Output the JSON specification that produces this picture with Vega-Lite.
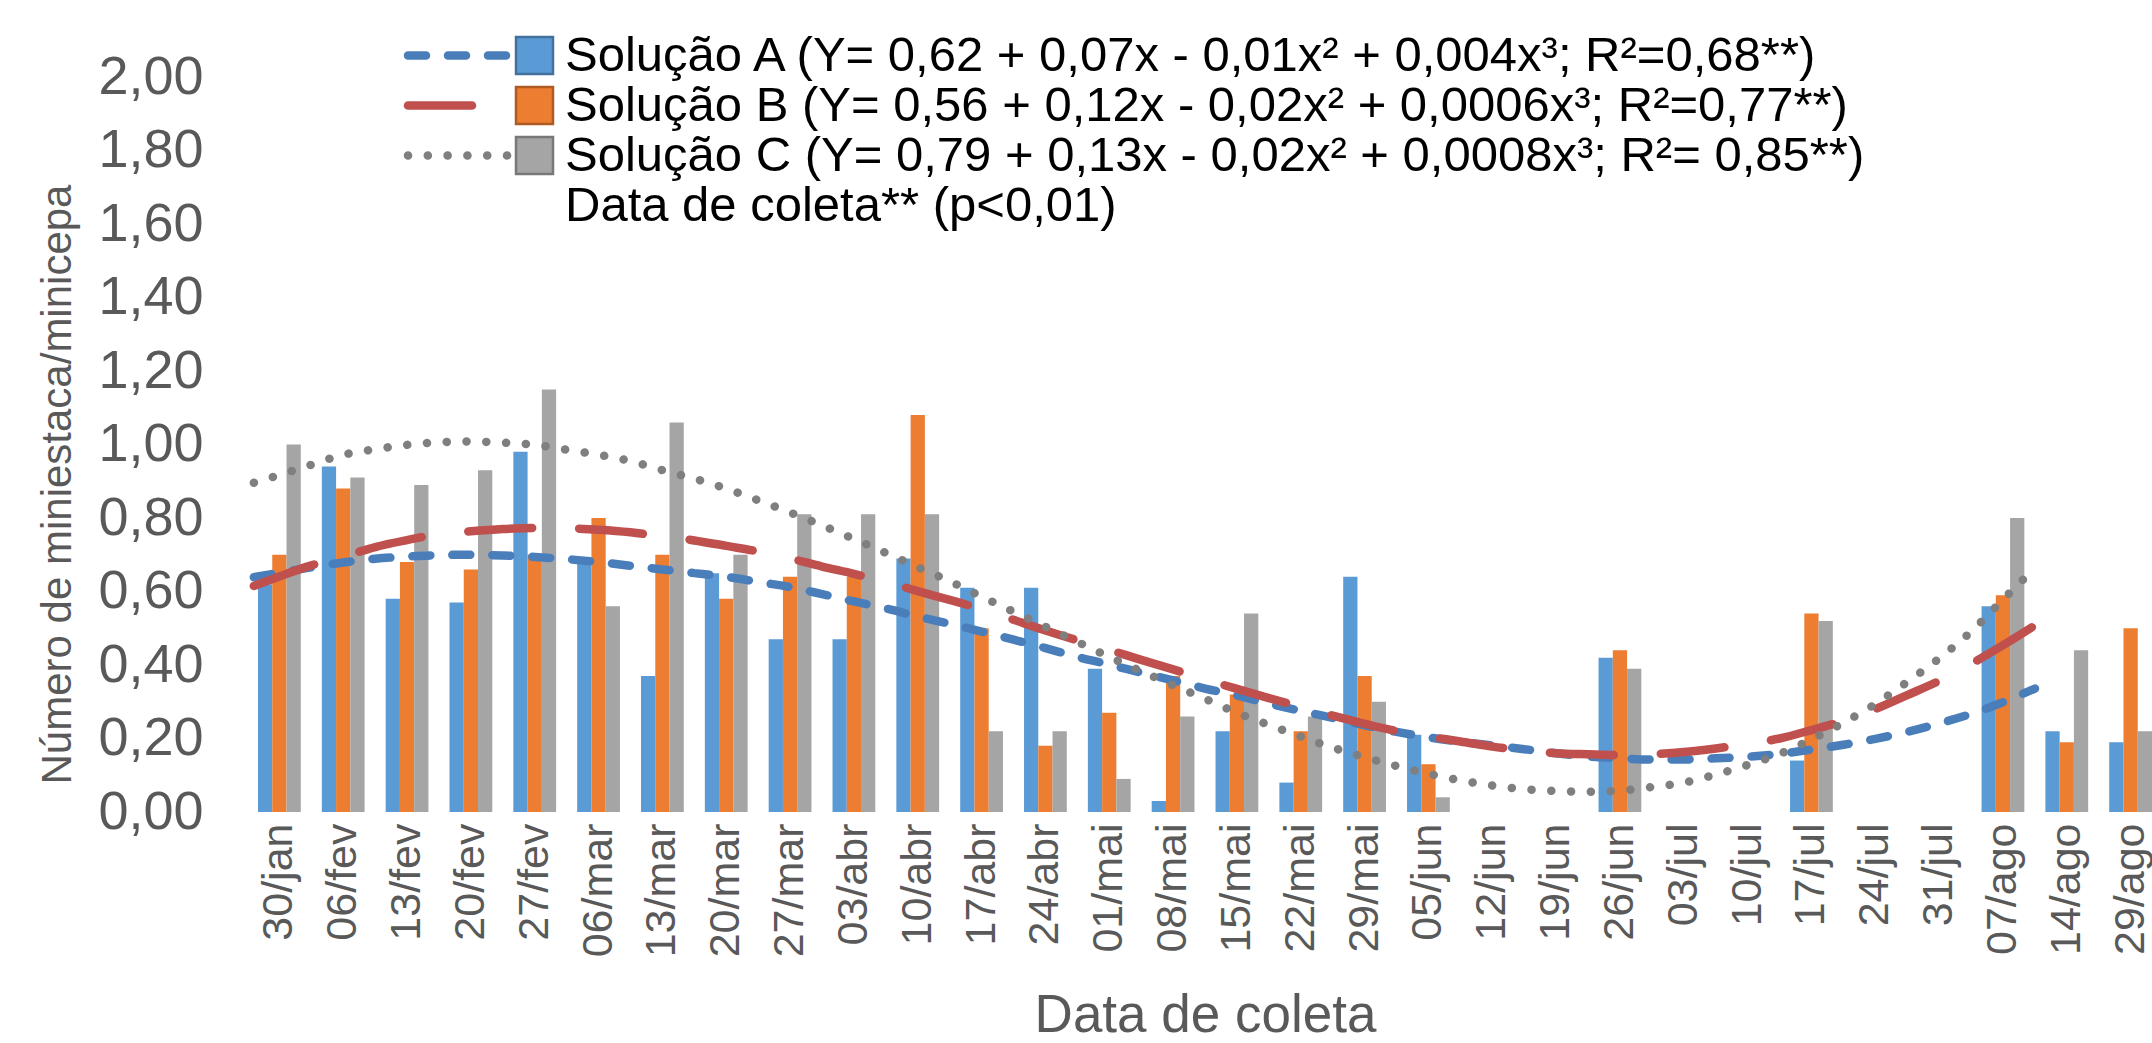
{
  "$schema": "https://vega.github.io/schema/vega-lite/v6.json",
  "width": 1894,
  "height": 735,
  "autosize": {"type": "none"},
  "padding": {"left": 258, "top": 77, "right": 0, "bottom": 231},
  "background": "white",
  "config": {"view": {"stroke": null}, "font": "Liberation Sans"},
  "datasets": {
    "barras": [
      {"data": "30/jan", "serie": "Solução A", "valor": 0.62}, {"data": "30/jan", "serie": "Solução B", "valor": 0.70}, {"data": "30/jan", "serie": "Solução C", "valor": 1.00},
      {"data": "06/fev", "serie": "Solução A", "valor": 0.94}, {"data": "06/fev", "serie": "Solução B", "valor": 0.88}, {"data": "06/fev", "serie": "Solução C", "valor": 0.91},
      {"data": "13/fev", "serie": "Solução A", "valor": 0.58}, {"data": "13/fev", "serie": "Solução B", "valor": 0.68}, {"data": "13/fev", "serie": "Solução C", "valor": 0.89},
      {"data": "20/fev", "serie": "Solução A", "valor": 0.57}, {"data": "20/fev", "serie": "Solução B", "valor": 0.66}, {"data": "20/fev", "serie": "Solução C", "valor": 0.93},
      {"data": "27/fev", "serie": "Solução A", "valor": 0.98}, {"data": "27/fev", "serie": "Solução B", "valor": 0.70}, {"data": "27/fev", "serie": "Solução C", "valor": 1.15},
      {"data": "06/mar", "serie": "Solução A", "valor": 0.69}, {"data": "06/mar", "serie": "Solução B", "valor": 0.80}, {"data": "06/mar", "serie": "Solução C", "valor": 0.56},
      {"data": "13/mar", "serie": "Solução A", "valor": 0.37}, {"data": "13/mar", "serie": "Solução B", "valor": 0.70}, {"data": "13/mar", "serie": "Solução C", "valor": 1.06},
      {"data": "20/mar", "serie": "Solução A", "valor": 0.65}, {"data": "20/mar", "serie": "Solução B", "valor": 0.58}, {"data": "20/mar", "serie": "Solução C", "valor": 0.70},
      {"data": "27/mar", "serie": "Solução A", "valor": 0.47}, {"data": "27/mar", "serie": "Solução B", "valor": 0.64}, {"data": "27/mar", "serie": "Solução C", "valor": 0.81},
      {"data": "03/abr", "serie": "Solução A", "valor": 0.47}, {"data": "03/abr", "serie": "Solução B", "valor": 0.64}, {"data": "03/abr", "serie": "Solução C", "valor": 0.81},
      {"data": "10/abr", "serie": "Solução A", "valor": 0.69}, {"data": "10/abr", "serie": "Solução B", "valor": 1.08}, {"data": "10/abr", "serie": "Solução C", "valor": 0.81},
      {"data": "17/abr", "serie": "Solução A", "valor": 0.61}, {"data": "17/abr", "serie": "Solução B", "valor": 0.50}, {"data": "17/abr", "serie": "Solução C", "valor": 0.22},
      {"data": "24/abr", "serie": "Solução A", "valor": 0.61}, {"data": "24/abr", "serie": "Solução B", "valor": 0.18}, {"data": "24/abr", "serie": "Solução C", "valor": 0.22},
      {"data": "01/mai", "serie": "Solução A", "valor": 0.39}, {"data": "01/mai", "serie": "Solução B", "valor": 0.27}, {"data": "01/mai", "serie": "Solução C", "valor": 0.09},
      {"data": "08/mai", "serie": "Solução A", "valor": 0.03}, {"data": "08/mai", "serie": "Solução B", "valor": 0.37}, {"data": "08/mai", "serie": "Solução C", "valor": 0.26},
      {"data": "15/mai", "serie": "Solução A", "valor": 0.22}, {"data": "15/mai", "serie": "Solução B", "valor": 0.32}, {"data": "15/mai", "serie": "Solução C", "valor": 0.54},
      {"data": "22/mai", "serie": "Solução A", "valor": 0.08}, {"data": "22/mai", "serie": "Solução B", "valor": 0.22}, {"data": "22/mai", "serie": "Solução C", "valor": 0.26},
      {"data": "29/mai", "serie": "Solução A", "valor": 0.64}, {"data": "29/mai", "serie": "Solução B", "valor": 0.37}, {"data": "29/mai", "serie": "Solução C", "valor": 0.30},
      {"data": "05/jun", "serie": "Solução A", "valor": 0.21}, {"data": "05/jun", "serie": "Solução B", "valor": 0.13}, {"data": "05/jun", "serie": "Solução C", "valor": 0.04},
      {"data": "26/jun", "serie": "Solução A", "valor": 0.42}, {"data": "26/jun", "serie": "Solução B", "valor": 0.44}, {"data": "26/jun", "serie": "Solução C", "valor": 0.39},
      {"data": "17/jul", "serie": "Solução A", "valor": 0.14}, {"data": "17/jul", "serie": "Solução B", "valor": 0.54}, {"data": "17/jul", "serie": "Solução C", "valor": 0.52},
      {"data": "07/ago", "serie": "Solução A", "valor": 0.56}, {"data": "07/ago", "serie": "Solução B", "valor": 0.59}, {"data": "07/ago", "serie": "Solução C", "valor": 0.80},
      {"data": "14/ago", "serie": "Solução A", "valor": 0.22}, {"data": "14/ago", "serie": "Solução B", "valor": 0.19}, {"data": "14/ago", "serie": "Solução C", "valor": 0.44},
      {"data": "29/ago", "serie": "Solução A", "valor": 0.19}, {"data": "29/ago", "serie": "Solução B", "valor": 0.50}, {"data": "29/ago", "serie": "Solução C", "valor": 0.22}
    ],
    "tendencia": [
      {"serie": "Solução A", "semana": -0.4, "valor": 0.639}, {"serie": "Solução A", "semana": 0, "valor": 0.651}, {"serie": "Solução A", "semana": 0.5, "valor": 0.666}, {"serie": "Solução A", "semana": 1, "valor": 0.679}, {"serie": "Solução A", "semana": 1.5, "valor": 0.689}, {"serie": "Solução A", "semana": 2, "valor": 0.695}, {"serie": "Solução A", "semana": 2.5, "valor": 0.699}, {"serie": "Solução A", "semana": 3, "valor": 0.700}, {"serie": "Solução A", "semana": 3.5, "valor": 0.698}, {"serie": "Solução A", "semana": 4, "valor": 0.694}, {"serie": "Solução A", "semana": 4.5, "valor": 0.688}, {"serie": "Solução A", "semana": 5, "valor": 0.680}, {"serie": "Solução A", "semana": 5.5, "valor": 0.670}, {"serie": "Solução A", "semana": 6, "valor": 0.660}, {"serie": "Solução A", "semana": 6.5, "valor": 0.650}, {"serie": "Solução A", "semana": 7, "valor": 0.640}, {"serie": "Solução A", "semana": 7.5, "valor": 0.626}, {"serie": "Solução A", "semana": 8, "valor": 0.612}, {"serie": "Solução A", "semana": 8.5, "valor": 0.593}, {"serie": "Solução A", "semana": 9, "valor": 0.573}, {"serie": "Solução A", "semana": 9.5, "valor": 0.554}, {"serie": "Solução A", "semana": 10, "valor": 0.532}, {"serie": "Solução A", "semana": 10.5, "valor": 0.512}, {"serie": "Solução A", "semana": 11, "valor": 0.491}, {"serie": "Solução A", "semana": 11.5, "valor": 0.469}, {"serie": "Solução A", "semana": 12, "valor": 0.446}, {"serie": "Solução A", "semana": 12.5, "valor": 0.422}, {"serie": "Solução A", "semana": 13, "valor": 0.401}, {"serie": "Solução A", "semana": 13.5, "valor": 0.379}, {"serie": "Solução A", "semana": 14, "valor": 0.358}, {"serie": "Solução A", "semana": 14.5, "valor": 0.336}, {"serie": "Solução A", "semana": 15, "valor": 0.317}, {"serie": "Solução A", "semana": 15.5, "valor": 0.295}, {"serie": "Solução A", "semana": 16, "valor": 0.275}, {"serie": "Solução A", "semana": 16.5, "valor": 0.256}, {"serie": "Solução A", "semana": 17, "valor": 0.236}, {"serie": "Solução A", "semana": 17.5, "valor": 0.218}, {"serie": "Solução A", "semana": 18, "valor": 0.203}, {"serie": "Solução A", "semana": 18.5, "valor": 0.191}, {"serie": "Solução A", "semana": 19, "valor": 0.181}, {"serie": "Solução A", "semana": 19.5, "valor": 0.171}, {"serie": "Solução A", "semana": 20, "valor": 0.160}, {"serie": "Solução A", "semana": 20.5, "valor": 0.151}, {"serie": "Solução A", "semana": 21, "valor": 0.146}, {"serie": "Solução A", "semana": 21.5, "valor": 0.143}, {"serie": "Solução A", "semana": 22, "valor": 0.143}, {"serie": "Solução A", "semana": 22.5, "valor": 0.146}, {"serie": "Solução A", "semana": 23, "valor": 0.150}, {"serie": "Solução A", "semana": 23.5, "valor": 0.158}, {"serie": "Solução A", "semana": 24, "valor": 0.170}, {"serie": "Solução A", "semana": 24.5, "valor": 0.183}, {"serie": "Solução A", "semana": 25, "valor": 0.199}, {"serie": "Solução A", "semana": 25.5, "valor": 0.218}, {"serie": "Solução A", "semana": 26, "valor": 0.241}, {"serie": "Solução A", "semana": 26.5, "valor": 0.267}, {"serie": "Solução A", "semana": 27, "valor": 0.299}, {"serie": "Solução A", "semana": 27.5, "valor": 0.336},
      {"serie": "Solução B", "semana": -0.4, "valor": 0.615}, {"serie": "Solução B", "semana": 0, "valor": 0.641}, {"serie": "Solução B", "semana": 0.5, "valor": 0.671}, {"serie": "Solução B", "semana": 1, "valor": 0.695}, {"serie": "Solução B", "semana": 1.5, "valor": 0.721}, {"serie": "Solução B", "semana": 2, "valor": 0.740}, {"serie": "Solução B", "semana": 2.5, "valor": 0.756}, {"serie": "Solução B", "semana": 3, "valor": 0.764}, {"serie": "Solução B", "semana": 3.5, "valor": 0.770}, {"serie": "Solução B", "semana": 4, "valor": 0.773}, {"serie": "Solução B", "semana": 4.5, "valor": 0.772}, {"serie": "Solução B", "semana": 5, "valor": 0.768}, {"serie": "Solução B", "semana": 5.5, "valor": 0.761}, {"serie": "Solução B", "semana": 6, "valor": 0.750}, {"serie": "Solução B", "semana": 6.5, "valor": 0.739}, {"serie": "Solução B", "semana": 7, "valor": 0.724}, {"serie": "Solução B", "semana": 7.5, "valor": 0.709}, {"serie": "Solução B", "semana": 8, "valor": 0.690}, {"serie": "Solução B", "semana": 8.5, "valor": 0.668}, {"serie": "Solução B", "semana": 9, "valor": 0.648}, {"serie": "Solução B", "semana": 9.5, "valor": 0.626}, {"serie": "Solução B", "semana": 10, "valor": 0.601}, {"serie": "Solução B", "semana": 10.5, "valor": 0.577}, {"serie": "Solução B", "semana": 11, "valor": 0.552}, {"serie": "Solução B", "semana": 11.5, "valor": 0.523}, {"serie": "Solução B", "semana": 12, "valor": 0.494}, {"serie": "Solução B", "semana": 12.5, "valor": 0.467}, {"serie": "Solução B", "semana": 13, "valor": 0.441}, {"serie": "Solução B", "semana": 13.5, "valor": 0.414}, {"serie": "Solução B", "semana": 14, "valor": 0.388}, {"serie": "Solução B", "semana": 14.5, "valor": 0.361}, {"serie": "Solução B", "semana": 15, "valor": 0.335}, {"serie": "Solução B", "semana": 15.5, "valor": 0.310}, {"serie": "Solução B", "semana": 16, "valor": 0.286}, {"serie": "Solução B", "semana": 16.5, "valor": 0.262}, {"serie": "Solução B", "semana": 17, "valor": 0.240}, {"serie": "Solução B", "semana": 17.5, "valor": 0.220}, {"serie": "Solução B", "semana": 18, "valor": 0.205}, {"serie": "Solução B", "semana": 18.5, "valor": 0.192}, {"serie": "Solução B", "semana": 19, "valor": 0.178}, {"serie": "Solução B", "semana": 19.5, "valor": 0.168}, {"serie": "Solução B", "semana": 20, "valor": 0.160}, {"serie": "Solução B", "semana": 20.5, "valor": 0.157}, {"serie": "Solução B", "semana": 21, "valor": 0.155}, {"serie": "Solução B", "semana": 21.5, "valor": 0.157}, {"serie": "Solução B", "semana": 22, "valor": 0.163}, {"serie": "Solução B", "semana": 22.5, "valor": 0.173}, {"serie": "Solução B", "semana": 23, "valor": 0.185}, {"serie": "Solução B", "semana": 23.5, "valor": 0.200}, {"serie": "Solução B", "semana": 24, "valor": 0.223}, {"serie": "Solução B", "semana": 24.5, "valor": 0.248}, {"serie": "Solução B", "semana": 25, "valor": 0.280}, {"serie": "Solução B", "semana": 25.5, "valor": 0.318}, {"serie": "Solução B", "semana": 26, "valor": 0.357}, {"serie": "Solução B", "semana": 26.5, "valor": 0.403}, {"serie": "Solução B", "semana": 27, "valor": 0.454}, {"serie": "Solução B", "semana": 27.5, "valor": 0.508}, {"serie": "Solução B", "semana": 27.6, "valor": 0.519},
      {"serie": "Solução C", "semana": -0.4, "valor": 0.896}, {"serie": "Solução C", "semana": 0, "valor": 0.917}, {"serie": "Solução C", "semana": 0.5, "valor": 0.945}, {"serie": "Solução C", "semana": 1, "valor": 0.972}, {"serie": "Solução C", "semana": 1.5, "valor": 0.987}, {"serie": "Solução C", "semana": 2, "valor": 0.999}, {"serie": "Solução C", "semana": 2.5, "valor": 1.006}, {"serie": "Solução C", "semana": 3, "valor": 1.008}, {"serie": "Solução C", "semana": 3.5, "valor": 1.005}, {"serie": "Solução C", "semana": 4, "valor": 0.999}, {"serie": "Solução C", "semana": 4.5, "valor": 0.986}, {"serie": "Solução C", "semana": 5, "valor": 0.972}, {"serie": "Solução C", "semana": 5.5, "valor": 0.955}, {"serie": "Solução C", "semana": 6, "valor": 0.930}, {"serie": "Solução C", "semana": 6.5, "valor": 0.907}, {"serie": "Solução C", "semana": 7, "valor": 0.880}, {"serie": "Solução C", "semana": 7.5, "valor": 0.848}, {"serie": "Solução C", "semana": 8, "valor": 0.815}, {"serie": "Solução C", "semana": 8.5, "valor": 0.780}, {"serie": "Solução C", "semana": 9, "valor": 0.743}, {"serie": "Solução C", "semana": 9.5, "valor": 0.705}, {"serie": "Solução C", "semana": 10, "valor": 0.666}, {"serie": "Solução C", "semana": 10.5, "valor": 0.628}, {"serie": "Solução C", "semana": 11, "valor": 0.586}, {"serie": "Solução C", "semana": 11.5, "valor": 0.545}, {"serie": "Solução C", "semana": 12, "valor": 0.504}, {"serie": "Solução C", "semana": 12.5, "valor": 0.463}, {"serie": "Solução C", "semana": 13, "valor": 0.422}, {"serie": "Solução C", "semana": 13.5, "valor": 0.383}, {"serie": "Solução C", "semana": 14, "valor": 0.345}, {"serie": "Solução C", "semana": 14.5, "valor": 0.308}, {"serie": "Solução C", "semana": 15, "valor": 0.270}, {"serie": "Solução C", "semana": 15.5, "valor": 0.237}, {"serie": "Solução C", "semana": 16, "valor": 0.205}, {"serie": "Solução C", "semana": 16.5, "valor": 0.175}, {"serie": "Solução C", "semana": 17, "valor": 0.149}, {"serie": "Solução C", "semana": 17.5, "valor": 0.125}, {"serie": "Solução C", "semana": 18, "valor": 0.104}, {"serie": "Solução C", "semana": 18.5, "valor": 0.086}, {"serie": "Solução C", "semana": 19, "valor": 0.072}, {"serie": "Solução C", "semana": 19.5, "valor": 0.062}, {"serie": "Solução C", "semana": 20, "valor": 0.057}, {"serie": "Solução C", "semana": 20.5, "valor": 0.055}, {"serie": "Solução C", "semana": 21, "valor": 0.058}, {"serie": "Solução C", "semana": 21.5, "valor": 0.068}, {"serie": "Solução C", "semana": 22, "valor": 0.080}, {"serie": "Solução C", "semana": 22.5, "valor": 0.102}, {"serie": "Solução C", "semana": 23, "valor": 0.128}, {"serie": "Solução C", "semana": 23.5, "valor": 0.158}, {"serie": "Solução C", "semana": 24, "valor": 0.198}, {"serie": "Solução C", "semana": 24.5, "valor": 0.243}, {"serie": "Solução C", "semana": 25, "valor": 0.294}, {"serie": "Solução C", "semana": 25.5, "valor": 0.354}, {"serie": "Solução C", "semana": 26, "valor": 0.418}, {"serie": "Solução C", "semana": 26.5, "valor": 0.491}, {"serie": "Solução C", "semana": 27, "valor": 0.578}, {"serie": "Solução C", "semana": 27.5, "valor": 0.665}
    ]
  },
  "layer": [
    {
      "data": {"name": "barras"},
      "mark": {"type": "bar", "strokeWidth": 0},
      "encoding": {
        "x": {
          "field": "data", "type": "nominal",
          "scale": {"domain": ["30/jan", "06/fev", "13/fev", "20/fev", "27/fev", "06/mar", "13/mar", "20/mar", "27/mar", "03/abr", "10/abr", "17/abr", "24/abr", "01/mai", "08/mai", "15/mai", "22/mai", "29/mai", "05/jun", "12/jun", "19/jun", "26/jun", "03/jul", "10/jul", "17/jul", "24/jul", "31/jul", "07/ago", "14/ago", "29/ago"], "paddingInner": 0.33, "paddingOuter": 0, "align": 0},
          "axis": {"title": "Data de coleta", "labelAngle": -90, "labelFontSize": 43, "labelColor": "#595959", "ticks": false, "tickSize": 0, "domain": false, "labelPadding": 11, "titleFontSize": 53, "titleColor": "#595959", "titleFontWeight": "normal", "titlePadding": 33}
        },
        "xOffset": {"field": "serie", "type": "nominal", "scale": {"domain": ["Solução A", "Solução B", "Solução C"], "paddingInner": 0}},
        "y": {
          "field": "valor", "type": "quantitative",
          "scale": {"domain": [0, 2], "nice": false},
          "axis": {"title": "Número de miniestaca/minicepa", "values": [0, 0.2, 0.4, 0.6, 0.8, 1.0, 1.2, 1.4, 1.6, 1.8, 2.0], "labelExpr": "replace(format(datum.value, '.2f'), '.', ',')", "labelFontSize": 54, "labelColor": "#595959", "grid": false, "ticks": false, "tickSize": 0, "domain": false, "labelPadding": 55, "titleFontSize": 42, "titleColor": "#595959", "titleFontWeight": "normal", "titlePadding": 18, "titleY": 407}
        },
        "fill": {
          "field": "serie", "type": "nominal",
          "scale": {"domain": ["Solução A", "Solução B", "Solução C", "Data de coleta** (p<0,01)"], "range": ["#5B9BD5", "#ED7D31", "#A5A5A5", "rgba(0,0,0,0)"]},
          "legend": {"orient": "none", "legendX": 252, "legendY": -46, "title": null, "padding": 0, "symbolType": "square", "symbolSize": 1369, "symbolStrokeWidth": 2.5, "labelFontSize": 49, "labelColor": "#000000", "labelOffset": 6, "labelLimit": 3000, "rowPadding": 0, "labelExpr": "datum.label == 'Solução A' ? 'Solução A (Y= 0,62 + 0,07x - 0,01x² + 0,004x³; R²=0,68**)' : datum.label == 'Solução B' ? 'Solução B (Y= 0,56 + 0,12x - 0,02x² + 0,0006x³; R²=0,77**)' : datum.label == 'Solução C' ? 'Solução C (Y= 0,79 + 0,13x - 0,02x² + 0,0008x³; R²= 0,85**)' : datum.label"}
        },
        "stroke": {
          "field": "serie", "type": "nominal",
          "scale": {"domain": ["Solução A", "Solução B", "Solução C", "Data de coleta** (p<0,01)"], "range": ["#41719C", "#AE5A21", "#787878", "rgba(0,0,0,0)"]},
          "legend": {"orient": "none", "legendX": 252, "legendY": -46, "title": null, "padding": 0, "symbolType": "square", "symbolSize": 1369, "symbolStrokeWidth": 2.5, "labelFontSize": 49, "labelColor": "#000000", "labelOffset": 6, "labelLimit": 3000, "rowPadding": 0, "labelExpr": "datum.label == 'Solução A' ? 'Solução A (Y= 0,62 + 0,07x - 0,01x² + 0,004x³; R²=0,68**)' : datum.label == 'Solução B' ? 'Solução B (Y= 0,56 + 0,12x - 0,02x² + 0,0006x³; R²=0,77**)' : datum.label == 'Solução C' ? 'Solução C (Y= 0,79 + 0,13x - 0,02x² + 0,0008x³; R²= 0,85**)' : datum.label"}
        }
      }
    },
    {
      "data": {"name": "tendencia"},
      "mark": {"type": "line", "interpolate": "monotone", "strokeWidth": 8.5, "strokeCap": "round"},
      "encoding": {
        "x": {"field": "semana", "type": "quantitative", "scale": {"domain": [-0.335, 29.333], "nice": false, "zero": false}, "axis": null},
        "y": {"field": "valor", "type": "quantitative"},
        "color": {
          "field": "serie", "type": "nominal",
          "scale": {"domain": ["Solução A", "Solução B", "Solução C"], "range": ["#4A7EBB", "#C0504D", "#7F7F7F"]},
          "legend": {"orient": "none", "legendX": 175.5, "legendY": -46, "title": null, "padding": 0, "symbolType": "M-4,0H4", "symbolSize": 625, "symbolStrokeWidth": 8.5, "labelFontSize": 49, "labelExpr": "''", "rowPadding": 0, "encode": {"symbols": {"update": {"strokeCap": {"value": "round"}}}}}
        },
        "strokeDash": {
          "field": "serie", "type": "nominal",
          "scale": {"domain": ["Solução A", "Solução B", "Solução C"], "range": [[18, 22], [64, 47], [0.1, 19.7]]},
          "legend": {"orient": "none", "legendX": 175.5, "legendY": -46, "title": null, "padding": 0, "symbolType": "M-4,0H4", "symbolSize": 625, "symbolStrokeWidth": 8.5, "labelFontSize": 49, "labelExpr": "''", "rowPadding": 0, "encode": {"symbols": {"update": {"strokeCap": {"value": "round"}}}}}
        }
      }
    }
  ],
  "resolve": {"scale": {"x": "independent"}}
}
